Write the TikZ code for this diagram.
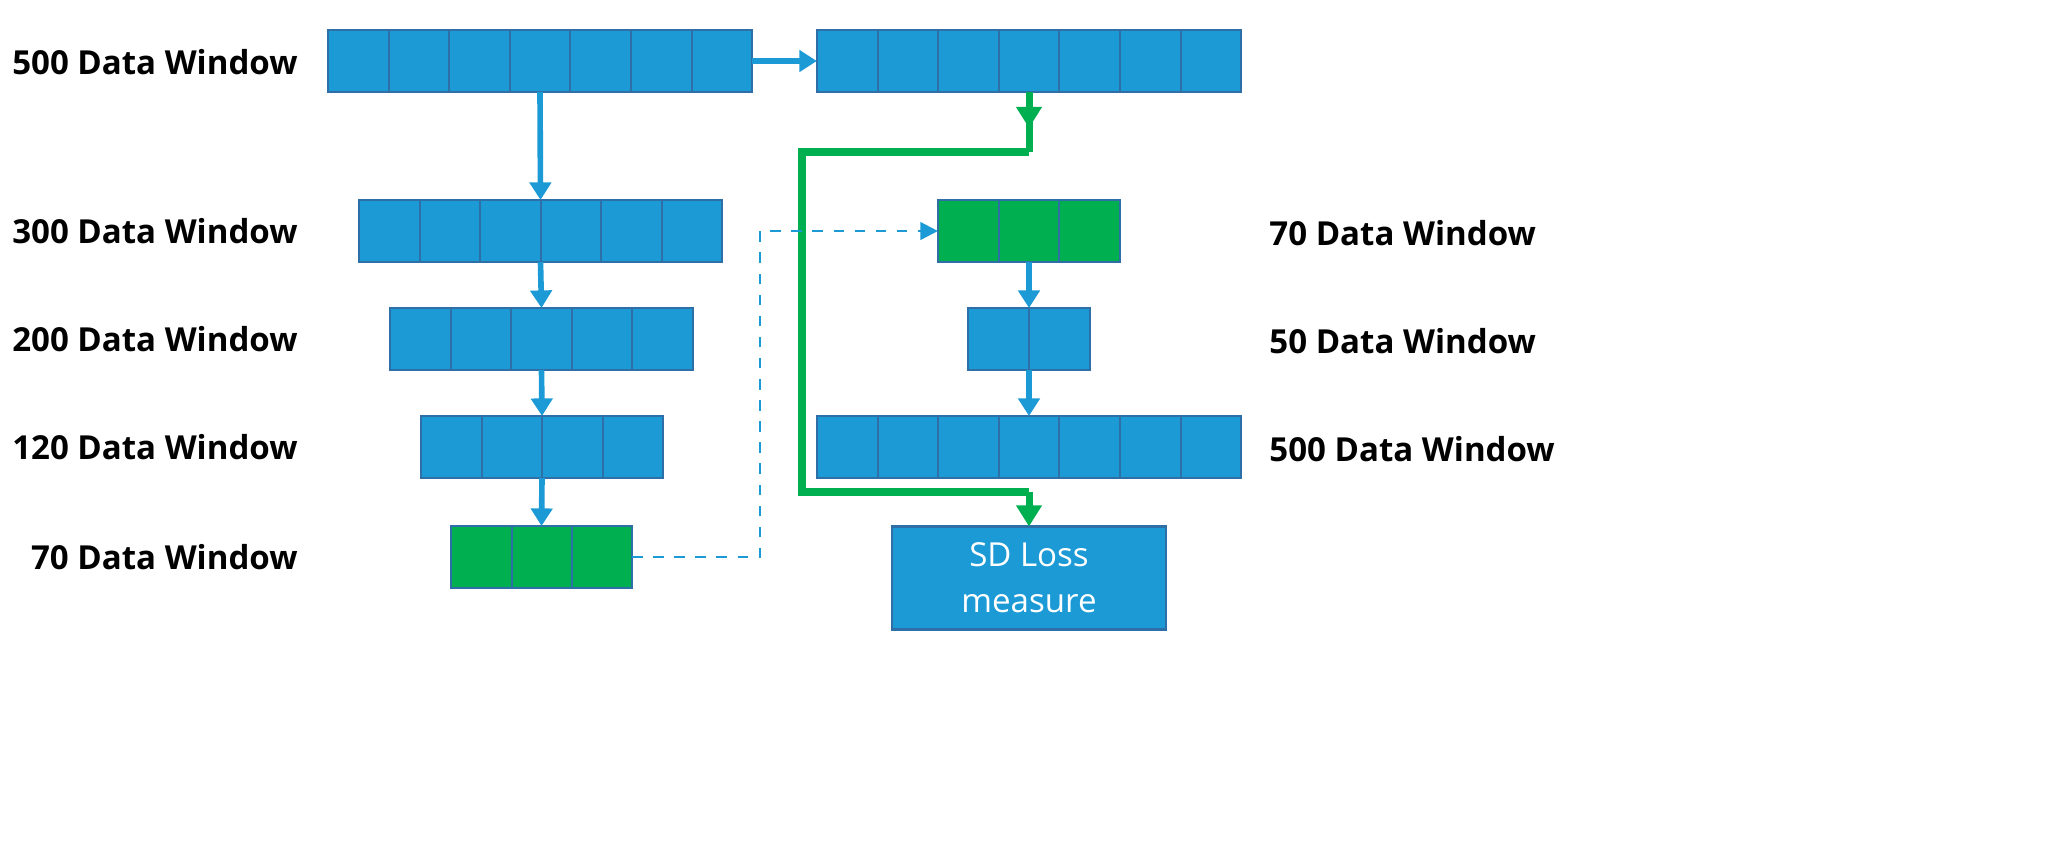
\documentclass[tikz,border=0pt]{standalone}
\usepackage{fontspec}
\setmainfont{Open Sans}
\usetikzlibrary{arrows.meta,decorations.markings}
\definecolor{cb}{HTML}{1B9AD6}
\definecolor{cg}{HTML}{00B050}
\definecolor{ce}{HTML}{2E6FA8}
\newcommand{\mycells}[3]{% left x, n, top y
 \foreach \i in {1,...,#2}{\draw[ce,line width=0.6pt] ({#1+\i*60.6},#3) -- ({#1+\i*60.6},#3+62);}}
\begin{document}
\begin{tikzpicture}[x=0.01cm,y=-0.01cm,
 blk/.style={draw=ce,line width=0.6pt,fill=cb,minimum height=0.62cm,inner sep=0,outer sep=0},
 gblk/.style={blk,fill=cg},
 lbl/.style={font=\bfseries\fontsize{9.4}{11}\selectfont},
 ba/.style={draw=cb,line width=1.6pt,-{Triangle[length=5pt,width=6pt]}},
 ga/.style={draw=cg,line width=2pt}]
\useasboundingbox (0,0) rectangle (2055,863);
\node[blk,minimum width=4.24cm] (a) at (540,61) {}; \mycells{328}{6}{30}
\node[blk,minimum width=4.24cm] (b) at (1029,61) {}; \mycells{817}{6}{30}
\node[blk,minimum width=3.63cm] (c) at (540.5,231) {}; \mycells{359}{5}{200}
\node[blk,minimum width=3.03cm] (d) at (541.5,339) {}; \mycells{390}{4}{308}
\node[blk,minimum width=2.42cm] (e) at (542,447) {}; \mycells{421}{3}{416}
\node[gblk,minimum width=1.81cm] (f) at (541.5,557) {}; \mycells{451}{2}{527}
\node[gblk,minimum width=1.82cm] (g) at (1029,231) {}; \mycells{938}{2}{200}
\node[blk,minimum width=1.22cm] (h) at (1029,339) {}; \mycells{968}{1}{308}
\node[blk,minimum width=4.24cm] (k) at (1029,447) {}; \mycells{817}{6}{416}
\node[blk,minimum width=2.74cm,minimum height=1.03cm,text=white,align=center,font=\fontsize{9.4}{13}\selectfont] (s) at (1029,578) {SD Loss\\measure};
\node[lbl,anchor=east] at (310,62) {500 Data Window};
\node[lbl,anchor=east] at (310,231) {300 Data Window};
\node[lbl,anchor=east] at (310,339) {200 Data Window};
\node[lbl,anchor=east] at (310,447) {120 Data Window};
\node[lbl,anchor=east] at (310,557) {70 Data Window};
\node[lbl,anchor=west] at (1257,233) {70 Data Window};
\node[lbl,anchor=west] at (1257,341) {50 Data Window};
\node[lbl,anchor=west] at (1257,449) {500 Data Window};
\draw[ba] (a.east) -- (b.west);
\draw[ba] (a.south) -- (c.north);
\draw[ba] (c.south) -- (d.north);
\draw[ba] (d.south) -- (e.north);
\draw[ba] (e.south) -- (f.north);
\draw[ba] (g.south) -- (h.north);
\draw[ba] (h.south) -- (k.north);
\coordinate (p1) at (1029,152); \coordinate (p2) at (802,152);
\coordinate (p3) at (802,492); \coordinate (p4) at (1029,492);
\draw[ga,postaction={decorate},decoration={markings,mark=at position 0.6 with {\arrow{Triangle[length=6pt,width=7pt]}}}] (b.south) -- (p1);
\draw[ga,line join=miter] (p1) -- (p2) -- (p3) -- (p4);
\draw[ga,-{Triangle[length=6pt,width=7pt]}] (p4) -- (s.north);
\coordinate (q1) at (760,557); \coordinate (q2) at (760,231);
\draw[cb,line width=0.7pt,dashed,-{Triangle[length=5pt,width=5pt]}] (f.east) -- (q1) -- (q2) -- (g.west);
\end{tikzpicture}
\end{document}
